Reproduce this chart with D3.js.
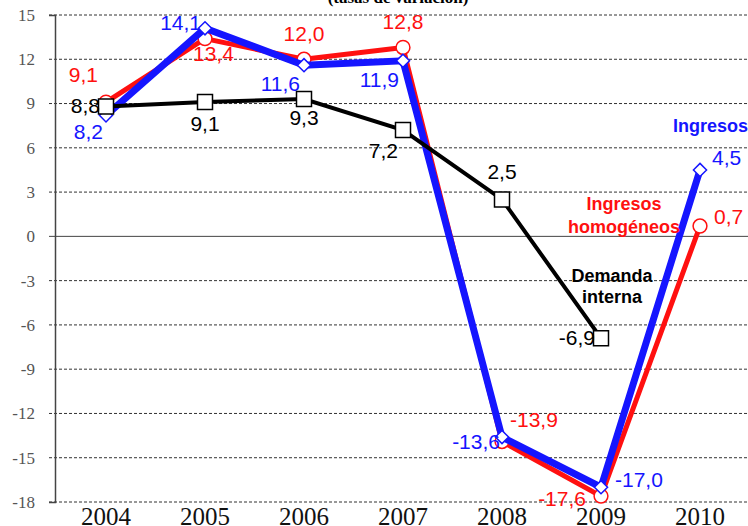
<html>
<head>
<style>
  body { margin: 0; background: #fff; }
  .ytick text { font-family: "Liberation Serif", serif; font-size: 17px; fill: #555; }
  .xlab { font-family: "Liberation Serif", serif; font-size: 25px; fill: #111; }
  .val { font-family: "Liberation Sans", sans-serif; font-size: 21px; }
  .leg { font-family: "Liberation Sans", sans-serif; font-size: 18px; font-weight: bold; }
</style>
<script src="https://d3js.org/d3.v7.min.js"></script>
</head>
<body>
<svg width="748" height="526"></svg>
<script>
const years = ["2004", "2005", "2006", "2007", "2008", "2009", "2010"];
const ingresos = [8.2, 14.1, 11.6, 11.9, -13.6, -17.0, 4.5];
const homogeneos = [9.1, 13.4, 12.0, 12.8, -13.9, -17.6, 0.7];
const demanda = [8.8, 9.1, 9.3, 7.2, 2.5, -6.9, null];
const yTicks = [15, 12, 9, 6, 3, 0, -3, -6, -9, -12, -15, -18];

// label offsets (dx, dy, anchor) per point
const offBlue = [[-3, 24, "end"], [-4, 2, "end"], [-4, 26, "end"], [-4, 26, "end"], [-2, 12, "end"], [14, 0, "start"], [12, -5, "start"]];
const offRed = [[-8, -20, "end"], [-12, 22, "start"], [0, -18, "middle"], [0, -18, "middle"], [8, -14, "start"], [-15, 10, "end"], [14, -2, "start"]];
const offBlack = [[-6, 7, "end"], [0, 29, "middle"], [0, 26, "middle"], [-5, 28, "end"], [0, -20, "middle"], [-6, 7, "end"]];

const svg = d3.select("svg");
const x = d3.scalePoint().domain(years).range([106, 700]);
const y = d3.scaleLinear().domain([-18, 15]).range([502, 15]);
const fmt = v => d3.format(".1f")(v).replace(".", ",").replace("−", "-");

// grid
svg.append("g").selectAll("line").data(yTicks).join("line")
  .attr("x1", 49).attr("x2", 748)
  .attr("y1", d => y(d)).attr("y2", d => y(d))
  .attr("stroke", d => d === 0 ? "#444" : "#333")
  .attr("stroke-width", 1)
  .attr("stroke-dasharray", d => d === 0 ? null : "3,2");

// y axis
const yAxis = svg.append("g").attr("class", "ytick").attr("transform", "translate(55,0)")
  .call(d3.axisLeft(y).tickValues(yTicks).tickSize(6).tickPadding(14).tickFormat(d => d3.format("d")(d).replace("−", "-")));
yAxis.select(".domain").attr("stroke", "#444").attr("stroke-width", 1.5);
yAxis.selectAll(".tick line").remove();

// year labels
svg.append("g").selectAll("text").data(years).join("text")
  .attr("class", "xlab").attr("x", d => x(d)).attr("y", 525)
  .attr("text-anchor", "middle").text(d => d);

// title (cut off at the top)
svg.append("text").attr("x", 398).attr("y", 3).attr("text-anchor", "middle")
  .attr("font-family", "Liberation Serif, serif").attr("font-size", 17).attr("font-weight", "bold")
  .text("(tasas de variación)");

function series(vals, color, width, shape, size, offs) {
  const pts = vals.map((v, i) => ({ yr: years[i], v: v, off: offs[i] })).filter(d => d.v !== null);
  const line = d3.line().x(d => x(d.yr)).y(d => y(d.v));
  const g = svg.append("g");
  g.append("path").attr("d", line(pts)).attr("fill", "none")
    .attr("stroke", color).attr("stroke-width", width).attr("stroke-linejoin", "miter");
  g.selectAll("path.m").data(pts).join("path").attr("class", "m")
    .attr("transform", d => "translate(" + x(d.yr) + "," + y(d.v) + ")")
    .attr("d", d3.symbol().type(shape).size(size))
    .attr("fill", "#fff").attr("stroke", color).attr("stroke-width", 1.5);
  g.selectAll("text").data(pts).join("text").attr("class", "val")
    .attr("x", d => x(d.yr) + d.off[0]).attr("y", d => y(d.v) + d.off[1])
    .attr("text-anchor", d => d.off[2]).attr("fill", color)
    .text(d => fmt(d.v));
}

const red = "#ff1010", blue = "#1515ff";
series(homogeneos, red, 5, d3.symbolCircle, 150, offRed);
series(ingresos, blue, 7, d3.symbolDiamond2, 110, offBlue);
series(demanda, "#000", 4, d3.symbolSquare, 225, offBlack);

// in-chart legend labels
const leg = svg.append("g").attr("class", "leg");
leg.append("text").attr("x", 748).attr("y", 132).attr("text-anchor", "end").attr("fill", blue).text("Ingresos");
leg.append("text").attr("x", 624).attr("y", 210).attr("text-anchor", "middle").attr("fill", red).text("Ingresos");
leg.append("text").attr("x", 624).attr("y", 233).attr("text-anchor", "middle").attr("fill", red).text("homogéneos");
leg.append("text").attr("x", 612).attr("y", 282).attr("text-anchor", "middle").attr("fill", "#000").text("Demanda");
leg.append("text").attr("x", 612).attr("y", 303).attr("text-anchor", "middle").attr("fill", "#000").text("interna");
</script>
</body>
</html>
